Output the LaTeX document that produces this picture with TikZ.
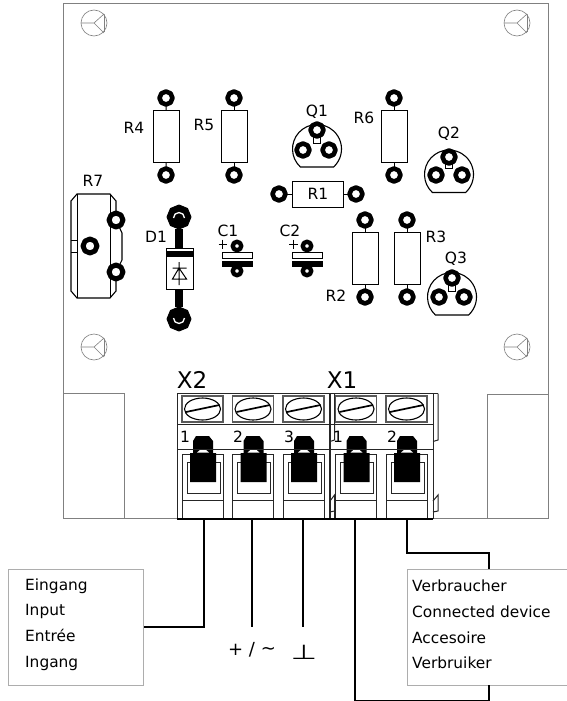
\documentclass[tikz,border=0pt]{standalone}
\usepackage{fontspec}
\setmainfont{DejaVu Sans}
\usetikzlibrary{shapes.geometric}
\definecolor{boardgrey}{gray}{0.5}
\definecolor{boxgrey}{gray}{0.68}
\definecolor{figgrey}{gray}{0.5}
\tikzset{
  x=1pt,y=-1pt,
  boardline/.style={draw=boardgrey,line width=0.9pt},
  padnode/.style={regular polygon,regular polygon sides=8,shape border rotate=22.5,draw=black,fill=white,
     line join=round,line width=4.6pt,minimum size=13pt,inner sep=0pt,outer sep=0pt},
  smallpad/.style={padnode,line width=4.4pt,minimum size=8.5pt},
  bigpad/.style={padnode,fill=black,line width=1pt,minimum size=24pt},
  resbody/.style={draw=black,fill=white,line width=1pt,inner sep=0pt,outer sep=0pt},
  vres/.style={resbody,minimum width=26pt,minimum height=51.5pt},
  hres/.style={resbody,minimum width=51pt,minimum height=26pt},
  lead/.style={draw=black,line width=1pt},
  pcblabel/.style={font=\fontsize{15.5}{15.5}\selectfont,inner sep=0pt,text=black},
  conlabel/.style={font=\fontsize{23}{23}\selectfont,inner sep=0pt},
  numlabel/.style={font=\fontsize{15.5}{15.5}\selectfont,inner sep=0pt},
  wire/.style={draw=black,line width=2.5pt},
  infobox/.style={draw=boxgrey,line width=0.9pt,fill=white,inner sep=0pt,outer sep=0pt,anchor=north west,minimum height=116pt},
  infotext/.style={inner sep=0pt,anchor=west,align=left,font=\fontsize{15.4}{25.6}\selectfont},
  capplate/.style={draw=black,fill=white,line width=1pt},
  fidline/.style={draw=figgrey,line width=0.6pt},
  blockline/.style={draw=black!85,line width=1pt},
  fiducial/.pic={
    \draw[fidline] (0,0) circle[radius=13pt];
    \draw[fidline] (-13,0) -- (0,0) -- (10,-9) (0,0) -- (10,10) (10.5,-8.5) -- (10.5,9);
  },
  transistor/.pic={
    \draw[black,line width=1.1pt,fill=white] (-16.6,18) arc[start angle=227.3,end angle=-47.3,radius=24.5pt] -- cycle;
    \draw[black,line width=0.8pt] (-4,-16) rectangle (3.5,-6);
  },
  capacitor/.pic={
    \draw[capplate] (-15,6) rectangle (15,12);
    \fill[black] (-15.5,15) rectangle (15.5,21);
    \draw[line width=1pt] (-18.5,-2) -- (-10,-2) (-14.2,-6.5) -- (-14.2,2.5);
  },
  terminalcell/.pic={
    \draw[draw=black!65,line width=1.4pt] (-21,-123) rectangle (20,-97);
    \draw[black,fill=white,line width=1.1pt] (-0.5,-110) ellipse[x radius=18pt,y radius=11pt];
    \draw[black,line width=1.7pt] (-17,-107) -- (16.5,-114);
    \draw[blockline] (-21,-65) -- (-21,0) (20,-65) -- (20,0) (-21,-65) -- (20,-65);
    \draw[blockline] (-16,-57) rectangle (17,-26);
    \draw[blockline] (-21,-19) -- (20,-19);
    \fill[black] (-7,-83) -- (6,-83) -- (10,-78) -- (10,-66) -- (13,-66) -- (13,-37) -- (-13,-37) -- (-13,-66) -- (-10,-66) -- (-10,-78) -- cycle;
    \fill[white] (-6,-66.5) .. controls (-3,-70.5) and (3,-70.5) .. (6,-66.5) -- cycle;
  }
}
\begin{document}
\begin{tikzpicture}
\useasboundingbox (0,0) rectangle (566,701);
\fill[white] (0,0) rectangle (566,701);

% board
\draw[boardline] (63.5,3.5) rectangle (548,518);
\draw[boardline] (63.5,393.5) -- (124,393.5) -- (124,518);
\draw[boardline] (487,518) -- (487,394) -- (548,394);
\pic at (94,23) {fiducial};
\pic at (517,23) {fiducial};
\pic at (94,347) {fiducial};
\pic at (517,347) {fiducial};

% resistors
\node[vres] (r4) at (166.5,136.5) {};
\node[padnode] (r4a) at (166,98) {};
\node[padnode] (r4b) at (166,175) {};
\node[vres] (r5) at (234,136.5) {};
\node[padnode] (r5a) at (234,98) {};
\node[padnode] (r5b) at (234,175) {};
\node[vres] (r6) at (394,136.5) {};
\node[padnode] (r6a) at (394,98) {};
\node[padnode] (r6b) at (394,175) {};
\node[vres] (r2) at (365,258.5) {};
\node[padnode] (r2a) at (365,220) {};
\node[padnode] (r2b) at (365,297) {};
\node[vres] (r3) at (407,258.5) {};
\node[padnode] (r3a) at (407,220) {};
\node[padnode] (r3b) at (407,297) {};
\node[hres] (r1) at (317.5,194) {};
\node[padnode] (r1a) at (279,194) {};
\node[padnode] (r1b) at (356,194) {};
\foreach \a/\b in {r4a/r4,r4b/r4,r5a/r5,r5b/r5,r6a/r6,r6b/r6,r2a/r2,r2b/r2,r3a/r3,r3b/r3,r1a/r1,r1b/r1}
  \draw[lead] (\a) -- (\b);
\node[pcblabel] (lr4) at (134,128) {R4};
\node[pcblabel] (lr5) at (204,125) {R5};
\node[pcblabel] (lr6) at (364,118) {R6};
\node[pcblabel] (lr1) at (318,194) {R1};
\node[pcblabel] (lr2) at (336,296) {R2};
\node[pcblabel] (lr3) at (436,237) {R3};
\node[pcblabel] (lr7) at (93,181) {R7};

% transistors
\pic at (317,149) {transistor};
\node[padnode] (q1a) at (317,130) {};
\node[padnode] (q1b) at (303,150) {};
\node[padnode] (q1c) at (329,150) {};
\node[pcblabel] (lq1) at (317,112) {Q1};
\pic at (449,174.5) {transistor};
\node[padnode] (q2a) at (449,157) {};
\node[padnode] (q2b) at (436,175) {};
\node[padnode] (q2c) at (462,175) {};
\node[pcblabel] (lq2) at (449,134) {Q2};
\pic at (452,297) {transistor};
\node[padnode] (q3a) at (452,278) {};
\node[padnode] (q3b) at (439,297) {};
\node[padnode] (q3c) at (464,297) {};
\node[pcblabel] (lq3) at (456,259) {Q3};

% R7
\draw[black,line width=1.1pt,fill=white] (71,201) -- (77,194) -- (110,194) -- (116,201) -- (116,220)
  -- (122,233) -- (122,260) -- (116,272) -- (116,291) -- (110,298) -- (77,298) -- (71,291) -- cycle;
\draw[black,line width=1pt] (77,194) -- (77,298) (110,194) -- (110,298) (71,240) -- (77,240) (71,252) -- (77,252);
\node[padnode,line width=5pt,minimum size=14pt] (r7a) at (90,246) {};
\node[padnode,line width=5pt,minimum size=14pt] (r7b) at (116,220) {};
\node[padnode,line width=5pt,minimum size=14pt] (r7c) at (116,272) {};

% D1
\node[bigpad] (d1a) at (179,217) {};
\node[bigpad] (d1b) at (179,319) {};
\node[resbody,minimum width=27pt,minimum height=41pt] (d1) at (179.5,268.5) {};
\draw[black,line width=8pt] (d1a) -- (d1.north -| d1a);
\draw[black,line width=8pt] (d1b) -- (d1.south -| d1b);
\draw[white,line width=1.3pt] (173.5,218) arc[start angle=180,end angle=0,radius=5.5pt];
\draw[white,line width=1.3pt] (173.5,318) arc[start angle=180,end angle=360,radius=5.5pt];
\fill[black] (165.5,251) rectangle (193.5,257);
\draw[black,line width=1pt] (179,262) -- (179,285) (172.5,268) -- (186.5,268)
   (179,268) -- (172.5,279) -- (186.5,279) -- cycle;
\node[pcblabel] (ld1) at (156,237) {D1};

% capacitors
\pic at (237,246) {capacitor};
\node[smallpad] (c1a) at (237,246) {};
\node[smallpad] (c1b) at (237,271) {};
\node[pcblabel] (lc1) at (228,231) {C1};
\pic at (307.5,246) {capacitor};
\node[smallpad] (c2a) at (307,246) {};
\node[smallpad] (c2b) at (307,271) {};
\node[pcblabel] (lc2) at (290,231) {C2};

% terminal block
\fill[white] (177,393) rectangle (433,519);
\foreach \c in {203,253.5,304,356.5,407} \pic at (\c,519) {terminalcell};
\draw[blockline] (177,393.5) -- (438,393.5) (177,393.5) -- (177,519)
   (177,424) -- (433,424) (177,449) -- (433,449) (433,393.5) -- (433,519);
\draw[blockline,line width=1.6pt] (330,393) -- (330,519);
\draw[blockline] (334.5,393) -- (334.5,440) -- (330,441.5)
   (330,501) -- (334.5,495) -- (334.5,519) (334.5,511) -- (330,512);
\draw[blockline] (438,393.5) -- (438,440) -- (433,441.5) (433,501) -- (438,495) -- (438,511) -- (433,512);
\draw[black,line width=1.8pt] (177,519) -- (433,519);
\node[conlabel] (x2) at (192,380) {X2};
\node[conlabel] (x1) at (342,380) {X1};
\node[numlabel] (n1) at (185,437) {1};
\node[numlabel] (n2) at (238,437) {2};
\node[numlabel] (n3) at (289,437) {3};
\node[numlabel] (n4) at (338,437) {1};
\node[numlabel] (n5) at (392,437) {2};

% wiring
\coordinate (t1) at (204,520);
\coordinate (t2) at (252,520);
\coordinate (t3) at (303,520);
\coordinate (t4) at (355,520);
\coordinate (t5) at (407,520);
\coordinate (e2) at (252,627);
\coordinate (e3) at (303,627);
\coordinate (bendin) at (204,627);
\coordinate (tap) at (489,569);
\coordinate (bot) at (489,685);
\node[infobox,minimum width=135pt] (inbox) at (8.5,569.5) {};
\node[infotext] (intext) at (25,624.5) {Eingang\\Input\\Entrée\\Ingang};
\node[infobox,minimum width=170pt] (outbox) at (407.5,569.5) {};
\node[infotext] (outtext) at (412,624.5) {Verbraucher\\Connected device\\Accesoire\\Verbruiker};
\draw[wire] (t1) -- (bendin) -- (inbox.east |- bendin);
\draw[wire] (t2) -- (e2);
\draw[wire] (t3) -- (e3);
\draw[wire] (t5) -- (407,553) -- (489,553) -- (tap);
\draw[wire,line width=2pt] (t4) -- (355,700.5) -- (489,700.5) -- (bot);
\node[font=\fontsize{18}{18}\selectfont,inner sep=0pt] (sup) at (252,650) {+ / \raisebox{0.1ex}{\textasciitilde}};
\node[font=\fontsize{24}{24}\selectfont,inner sep=0pt] (gnd) at (304,652) {\scalebox{1.25}[0.85]{⊥}};
\end{tikzpicture}
\end{document}
